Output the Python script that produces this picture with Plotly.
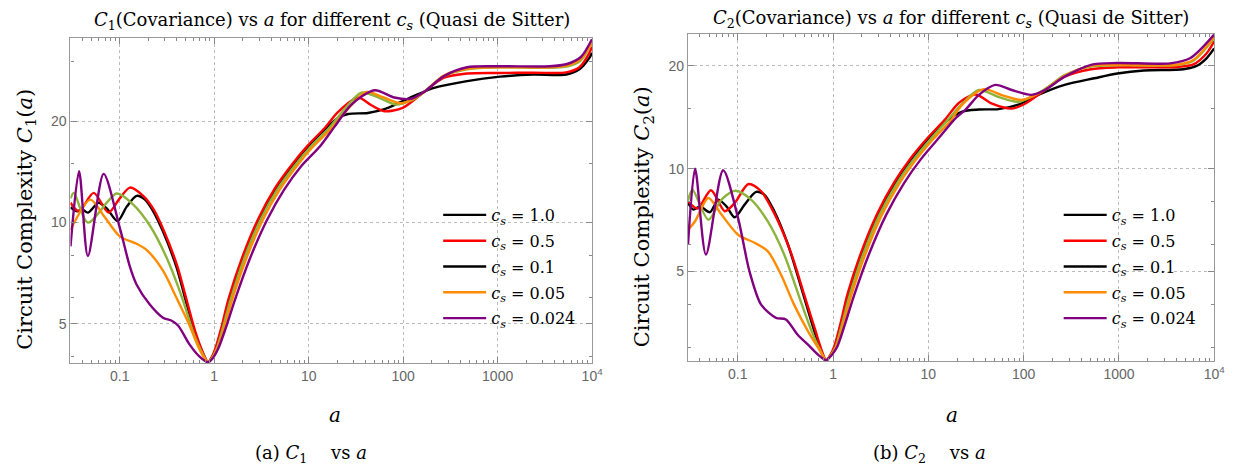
import math
import plotly.graph_objects as go

# ---------------- data ----------------
cs_labels = ["1.0", "0.5", "0.1", "0.05", "0.024"]
curve_colors = ["#000000", "#ff0000", "#8cb43c", "#ff8c00", "#800080"]
legend_colors = ["#000000", "#ff0000", "#000000", "#ff8c00", "#800080"]

# Panel (a): C1 vs a
a1_cs100 = [0.0301, 0.0354, 0.0399, 0.046, 0.0597, 0.0731, 0.0946, 0.1186, 0.151, 0.185, 0.226, 0.287, 0.397, 0.485, 0.617, 0.74, 0.86,
            0.93, 1.04, 1.2, 1.44, 1.99, 2.97, 4.44, 6.65, 9.93, 14.9, 20.5, 26.1, 42.3, 63.4, 94.8, 141.6, 212, 474, 1062, 2376, 5310, 7340, 9350, 9960]
c1_cs100 = [11.1, 10.8, 10.95, 10.7, 11.45, 11.0, 10.1, 11.15, 12.0, 11.7, 10.8, 9.4, 7.4, 6.05, 4.75, 4.15, 3.85,
            3.95, 4.22, 4.85, 5.91, 7.78, 10.2, 12.55, 14.7, 16.85, 18.9, 20.45, 21.0, 21.15, 21.7, 22.8, 24.0, 25.1, 26.3, 27.1, 27.5, 27.5, 28.5, 30.8, 31.9]

a1_cs050 = [0.0301, 0.037, 0.053, 0.076, 0.10, 0.128, 0.177, 0.23, 0.293, 0.405, 0.495, 0.627, 0.748, 0.86,
            0.93, 1.03, 1.19, 1.42, 1.96, 2.93, 4.38, 6.56, 9.8, 14.7, 20.5, 33.2, 46, 63.4, 98.6, 153.8, 270, 474, 1062, 2376, 5310, 7340, 9350, 9960]
c1_cs050 = [11.45, 10.8, 12.25, 10.7, 11.8, 12.7, 12.0, 10.9, 9.45, 7.45, 6.08, 4.77, 4.16, 3.85,
            3.96, 4.24, 4.88, 5.95, 7.83, 10.27, 12.63, 14.8, 16.95, 19.05, 21.3, 23.5, 22.3, 21.4, 21.9, 24.0, 26.9, 27.7, 27.8, 27.85, 27.9, 28.9, 31.9, 33.3]

a1_cs010 = [0.0301, 0.0327, 0.046, 0.0931, 0.139, 0.208, 0.311, 0.46, 0.60, 0.73, 0.86,
            0.94, 1.06, 1.23, 1.49, 2.06, 3.09, 4.66, 7.03, 10.6, 16.0, 23.0, 36.1, 55, 84, 120, 153.8, 270, 474, 1062, 3556, 5770, 7600, 9960]
c1_cs010 = [11.8, 12.25, 10.0, 12.2, 11.3, 9.8, 7.9, 5.95, 4.72, 4.15, 3.85,
            3.95, 4.22, 4.85, 5.91, 7.78, 10.2, 12.55, 14.7, 16.85, 18.9, 21.4, 24.3, 23.5, 22.4, 23.0, 24.0, 27.2, 28.5, 28.9, 28.8, 29.2, 30.3, 34.2]

a1_cs005 = [0.0301, 0.0488, 0.0673, 0.10, 0.151, 0.192, 0.287, 0.396, 0.54, 0.70, 0.86,
            0.95, 1.08, 1.27, 1.55, 2.17, 3.27, 4.95, 7.46, 11.2, 17, 24, 40.7, 60, 94.8, 153.8, 270, 474, 1062, 3556, 5770, 7600, 9960]
c1_cs005 = [9.5, 11.7, 10.5, 9.1, 8.65, 8.3, 7.2, 6.0, 5.0, 4.2, 3.85,
            3.95, 4.22, 4.85, 5.91, 7.78, 10.2, 12.55, 14.7, 16.85, 18.9, 21.2, 24.4, 23.6, 22.6, 24.0, 27.3, 28.6, 28.9, 28.9, 29.4, 30.6, 34.3]

a1_cs0024 = [0.0301, 0.0371, 0.046, 0.0675, 0.10, 0.128, 0.151, 0.208, 0.287, 0.351, 0.416, 0.547, 0.70, 0.86,
             0.96, 1.1, 1.32, 1.66, 2.37, 3.63, 5.52, 8.32, 13.2, 18.9, 28.3, 49.8, 80.7, 120.8, 166, 270, 474, 1062, 3556, 5310, 7600, 9960]
c1_cs0024 = [8.5, 14.2, 7.95, 13.95, 9.66, 7.4, 6.54, 5.71, 5.22, 5.12, 4.94, 4.35, 4.0, 3.85,
             3.95, 4.22, 4.85, 5.91, 7.78, 10.2, 12.55, 14.7, 16.85, 19.3, 22.4, 24.7, 23.5, 23.3, 24.4, 27.2, 28.9, 29.1, 29.1, 29.5, 31.0, 35.0]

# Panel (b): C2 vs a
a2_cs100 = [0.0301, 0.0343, 0.0402, 0.0511, 0.0624, 0.0762, 0.0929, 0.118, 0.156, 0.190, 0.242, 0.333, 0.457, 0.629, 0.75, 0.846,
            0.93, 1.04, 1.2, 1.44, 1.99, 2.97, 4.44, 6.65, 9.93, 15.3, 22.7, 33.9, 54.6, 88, 142, 269, 551, 961, 1823, 4744, 6520, 8280, 9960]
c2_cs100 = [7.94, 7.59, 7.76, 7.46, 8.12, 7.76, 7.21, 7.85, 8.55, 8.4, 7.51, 6.05, 4.55, 3.38, 2.92, 2.75,
            2.83, 3.0, 3.47, 4.25, 5.6, 7.35, 9.05, 10.65, 12.2, 13.76, 14.7, 14.9, 14.95, 15.4, 16.45, 17.6, 18.4, 19.0, 19.4, 19.55, 20.0, 21.05, 22.5]

a2_cs050 = [0.0301, 0.038, 0.0524, 0.0731, 0.0929, 0.1298, 0.176, 0.242, 0.36, 0.495, 0.655, 0.76, 0.846,
            0.93, 1.03, 1.19, 1.42, 1.96, 2.93, 4.38, 6.56, 9.8, 15.0, 21, 31.3, 46.5, 75, 103.5, 167, 269, 508, 961, 4040, 6030, 8280, 9960]
c2_cs050 = [8.03, 7.65, 8.65, 7.51, 7.94, 9.02, 8.59, 7.4, 5.7, 4.3, 3.35, 2.94, 2.75,
            2.84, 3.02, 3.5, 4.3, 5.66, 7.42, 9.12, 10.75, 12.3, 13.95, 15.6, 16.5, 15.5, 15.0, 15.5, 17.0, 18.6, 19.55, 19.8, 19.85, 20.2, 21.75, 23.6]

a2_cs010 = [0.0301, 0.0335, 0.0492, 0.0676, 0.0944, 0.138, 0.206, 0.307, 0.457, 0.60, 0.73, 0.846,
            0.94, 1.06, 1.23, 1.49, 2.06, 3.09, 4.66, 7.0, 10.5, 16, 22.7, 33.9, 55, 88, 167, 269, 508, 961, 4040, 6030, 9960]
c2_cs010 = [8.06, 8.68, 7.09, 8.12, 8.62, 8.12, 7.02, 5.61, 4.10, 3.33, 2.95, 2.75,
            2.84, 3.0, 3.47, 4.25, 5.6, 7.35, 9.05, 10.65, 12.2, 13.9, 15.5, 17.0, 16.2, 15.7, 17.1, 18.8, 19.9, 20.1, 20.1, 20.7, 24.1]

a2_cs005 = [0.0301, 0.0357, 0.0492, 0.0676, 0.1007, 0.150, 0.206, 0.284, 0.390, 0.56, 0.72, 0.846,
            0.95, 1.08, 1.27, 1.55, 2.17, 3.27, 4.95, 7.46, 11.2, 17, 22.7, 38.2, 60, 95.3, 167, 269, 508, 961, 4040, 6030, 9960]
c2_cs005 = [6.63, 7.02, 8.21, 7.34, 6.41, 6.07, 5.74, 4.9, 4.0, 3.3, 2.95, 2.75,
            2.84, 3.0, 3.47, 4.25, 5.6, 7.35, 9.05, 10.65, 12.2, 13.8, 15.4, 17.1, 16.4, 15.9, 17.0, 18.7, 20.0, 20.15, 20.15, 20.8, 24.3]

a2_cs0024 = [0.0301, 0.0357, 0.0464, 0.0703, 0.1007, 0.133, 0.176, 0.252, 0.32, 0.423, 0.55, 0.70, 0.846,
             0.96, 1.1, 1.32, 1.66, 2.37, 3.63, 5.52, 8.32, 13.2, 19, 24.6, 33.9, 50.5, 75, 121, 167, 269, 508, 961, 3443, 5560, 9960]
c2_cs0024 = [6.0, 10.0, 5.61, 9.9, 7.18, 5.0, 4.0, 3.66, 3.62, 3.27, 3.05, 2.85, 2.75,
             2.84, 3.0, 3.47, 4.25, 5.6, 7.35, 9.05, 10.65, 12.4, 14.0, 14.9, 16.45, 17.6, 17.0, 16.45, 17.0, 18.6, 20.15, 20.4, 20.35, 21.05, 24.7]

x_tickvals = [0.1, 1, 10, 100, 1000, 10000]
x_ticktext = ["0.1", "1", "10", "100", "1000", "10<sup>4</sup>"]
y_tickvals = [5, 10, 20]
y1_minor = [4, 6, 8, 15, 30]
y2_minor = [3, 4, 6, 8, 15]

panel1 = [(a1_cs100, c1_cs100), (a1_cs050, c1_cs050), (a1_cs010, c1_cs010), (a1_cs005, c1_cs005), (a1_cs0024, c1_cs0024)]
panel2 = [(a2_cs100, c2_cs100), (a2_cs050, c2_cs050), (a2_cs010, c2_cs010), (a2_cs005, c2_cs005), (a2_cs0024, c2_cs0024)]

# ---------------- figure ----------------
W, H = 1252, 464
SERIF = "DejaVu Serif"
SANS = "Liberation Sans"

fig = go.Figure()
for (xa, ya, leg, tag, panel) in [("x", "y", "legend", "L", panel1), ("x2", "y2", "legend2", "R", panel2)]:
    for i, (xs, ys) in enumerate(panel):
        fig.add_trace(go.Scatter(x=xs, y=ys, mode="lines", xaxis=xa, yaxis=ya,
                                 line=dict(color=curve_colors[i], width=2.4, shape="spline", smoothing=0.8),
                                 showlegend=False, hoverinfo="skip"))
    for i, lab in enumerate(cs_labels):
        fig.add_trace(go.Scatter(x=[None], y=[None], mode="lines", xaxis=xa, yaxis=ya,
                                 line=dict(color=legend_colors[i], width=2.4),
                                 name="<i>c<sub>s</sub></i> = " + lab, legend=leg,
                                 legendgroup=tag + str(i), showlegend=True))

minor_x = [k * 10 ** d for d in range(-2, 4) for k in range(2, 10)]
minor_x = [v for v in minor_x if v >= 0.03]


def xaxis_cfg(domain, anchor):
    return dict(type="log", domain=domain, range=[-1.522, 4.0], anchor=anchor,
                tickvals=x_tickvals, ticktext=x_ticktext,
                ticks="inside", ticklen=6, tickcolor="#888", tickwidth=1,
                showline=True, linecolor="#999", linewidth=1.2, mirror="ticks",
                showgrid=True, gridcolor="#bbbbbb", griddash="dot", gridwidth=1,
                tickfont=dict(family=SANS, size=14, color="#666"),
                minor=dict(tickvals=minor_x, ticks="inside", ticklen=3, tickcolor="#888", showgrid=False),
                zeroline=False, fixedrange=True)


def yaxis_cfg(domain, rng, minor_vals, anchor):
    return dict(type="log", domain=domain, range=rng, anchor=anchor,
                tickvals=y_tickvals, ticktext=[str(v) for v in y_tickvals],
                ticks="inside", ticklen=6, tickcolor="#888", tickwidth=1,
                showline=True, linecolor="#999", linewidth=1.2, mirror="ticks",
                showgrid=True, gridcolor="#bbbbbb", griddash="dot", gridwidth=1,
                tickfont=dict(family=SANS, size=14, color="#666"),
                minor=dict(tickvals=minor_vals, ticks="inside", ticklen=3, tickcolor="#888", showgrid=False),
                zeroline=False, fixedrange=True)


xa1 = xaxis_cfg([63 / W, 589.3 / W], "y")
xa2 = xaxis_cfg([686 / W, 1217 / W], "y2")
ya1 = yaxis_cfg([1 - 355 / H, 1 - 30 / H], [math.log10(3.83), math.log10(35.3)], y1_minor, "x")
ya2 = yaxis_cfg([1 - 353.3 / H, 1 - 26 / H], [math.log10(2.73), math.log10(24.8)], y2_minor, "x2")

legend_common = dict(font=dict(family=SERIF, size=16, color="black"), bgcolor="rgba(0,0,0,0)",
                     borderwidth=0, itemwidth=43, tracegroupgap=2, traceorder="grouped",
                     xanchor="left", yanchor="top", itemclick=False, itemdoubleclick=False)

fig.update_layout(
    width=W, height=H, margin=dict(l=0, r=0, t=0, b=0),
    paper_bgcolor="white", plot_bgcolor="white",
    xaxis=xa1, yaxis=ya1, xaxis2=xa2, yaxis2=ya2,
    legend=dict(x=434 / W, y=1 - 190 / H, **legend_common),
    legend2=dict(x=1060 / W, y=1 - 190 / H, **legend_common),
    showlegend=True,
)

ann = []
def add_text(text, x, y, size, angle=0):
    ann.append(dict(text=text, x=x / W, y=1 - y / H, xref="paper", yref="paper", showarrow=False,
                    xanchor="center", yanchor="middle", textangle=angle,
                    font=dict(family=SERIF, size=size, color="black")))

add_text("<i>C</i><sub>1</sub>(Covariance) vs <i>a</i> for different <i>c<sub>s</sub></i> (Quasi de Sitter)", 327, 13, 18)
add_text("<i>C</i><sub>2</sub>(Covariance) vs <i>a</i> for different <i>c<sub>s</sub></i> (Quasi de Sitter)", 951, 11, 18)
add_text("Circuit Complexity <i>C</i><sub>1</sub>(<i>a</i>)", 18, 211, 21, -90)
add_text("Circuit Complexity <i>C</i><sub>2</sub>(<i>a</i>)", 641, 209, 21, -90)
add_text("<i>a</i>", 330, 407, 20)
add_text("<i>a</i>", 952, 407, 20)
add_text("(a) <i>C</i><sub>1</sub>\u2003 vs <i>a</i>", 306, 446, 18)
add_text("(b) <i>C</i><sub>2</sub>\u2003 vs <i>a</i>", 930, 446, 18)
fig.update_layout(annotations=ann)

fig.write_html("out.html")
